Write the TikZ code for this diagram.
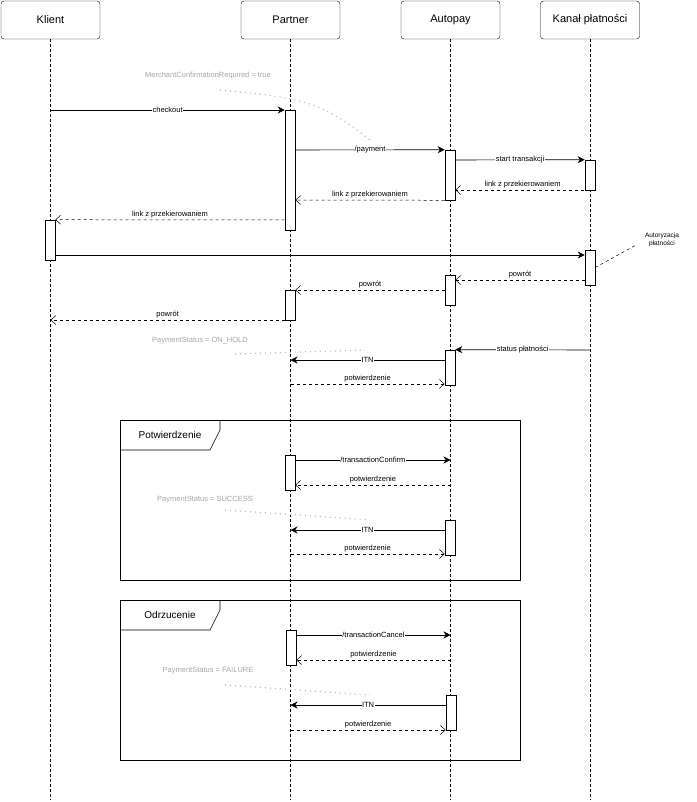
\documentclass[tikz,border=0pt]{standalone}
\usepackage{fontspec}
\setmainfont{Liberation Sans}
\usetikzlibrary{arrows.meta}
\begin{document}
\begin{tikzpicture}[x=1pt,y=-1pt,
  head/.style={draw,fill=white,rounded corners=3pt,minimum width=99pt,minimum height=38pt,font=\fontsize{11}{13}\selectfont},
  life/.style={densely dashed,line width=0.5pt},
  act/.style={draw,fill=white,line width=0.6pt},
  msg/.style={line width=0.6pt,-{Stealth[length=7pt,width=7pt]}},
  ret/.style={line width=0.5pt,dashed,-{Straight Barb[length=5pt,width=9pt]}},
  lab/.style={font=\fontsize{7.5}{9}\selectfont,fill=white,inner sep=0.5pt},
  tl/.style={font=\fontsize{7.5}{9}\selectfont,inner sep=1pt},
  note/.style={font=\fontsize{7.5}{9}\selectfont,text=gray!70},
  nl/.style={line width=1.2pt,gray!55,dash pattern=on 1pt off 4pt},
  frm/.style={line width=0.6pt}]
\fill[white] (0,0) rectangle (696,802);
\useasboundingbox (0,0) rectangle (696,802);
% heads
\node[head] (K) at (50.5,20) {Klient};
\node[head] (P) at (290.5,20) {Partner};
\node[head] (A) at (450.5,20) {Autopay};
\node[head] (C) at (590,20) {Kanał płatności};
\foreach \n/\x in {kl/50,pl/290,al/450,cl/590}{\coordinate (\n) at (\x,800);}
\draw[life] (K) -- (K|-kl);
\draw[life] (P) -- (P|-pl);
\draw[life] (A) -- (A|-al);
\draw[life] (C) -- (C|-cl);
% frames
\draw[frm] (120,420) rectangle (520,580);
\draw[frm] (120,450) -- (210,450) -- (220,430) -- (220,420);
\node[font=\fontsize{10}{12}\selectfont] (f1) at (170,435) {Potwierdzenie};
\draw[frm] (120,600) rectangle (520,760);
\draw[frm] (120,630) -- (210,630) -- (220,610) -- (220,600);
\node[font=\fontsize{10}{12}\selectfont] (f2) at (170,615) {Odrzucenie};
% activations
\node[act,minimum width=10pt,minimum height=120pt,inner sep=0] (p1) at (290,170) {};
\node[act,minimum width=10pt,minimum height=50pt,inner sep=0] (a1) at (450,175) {};
\node[act,minimum width=10pt,minimum height=30pt,inner sep=0] (c1) at (590,175) {};
\node[act,minimum width=10pt,minimum height=40pt,inner sep=0] (k1) at (50,240) {};
\node[act,minimum width=10pt,minimum height=35pt,inner sep=0] (c2) at (590,267.5) {};
\node[act,minimum width=10pt,minimum height=30pt,inner sep=0] (a2) at (450,290) {};
\node[act,minimum width=10pt,minimum height=30pt,inner sep=0] (p2) at (290,305) {};
\node[act,minimum width=10pt,minimum height=35pt,inner sep=0] (a3) at (450,367.5) {};
\node[act,minimum width=10pt,minimum height=35pt,inner sep=0] (p3) at (290,472.5) {};
\node[act,minimum width=10pt,minimum height=35pt,inner sep=0] (a4) at (450,537.5) {};
\node[act,minimum width=10pt,minimum height=35pt,inner sep=0] (p4) at (291,647.5) {};
\node[act,minimum width=10pt,minimum height=35pt,inner sep=0] (a5) at (451,712.5) {};
% messages
\draw[msg] (K|-0,110) -- node[lab]{checkout} (p1.west|-0,110);
\draw[msg] (p1.east|-0,150) -- node[lab]{/payment} (a1.north west);
\draw[msg] (a1.east|-0,160) -- node[lab]{start transakcji} (c1.north west);
\draw[ret] (C|-0,190) -- node[tl,above=1pt]{link z przekierowaniem} (a1.east|-0,190);
\draw[ret] (a1.south west) -- node[tl,above=1pt]{link z przekierowaniem} (p1.east|-0,200);
\draw[ret] (p1.west|-0,220) -- node[tl,above=1pt]{link z przekierowaniem} (k1.north east);
\draw[msg] (k1.east|-0,255) -- (c2.west|-0,255);
\draw[ret] (c2.west|-0,280) -- node[tl,above=1pt]{powrót} (a2.east|-0,280);
\draw[ret] (a2.west|-0,290) -- node[tl,above=1pt]{powrót} (p2.east|-0,290);
\draw[ret] (p2.west|-0,320) -- node[tl,above=1pt]{powrót} (K|-0,320);
\draw[msg] (C|-0,350) -- node[lab]{status płatności} (a3.north east);
\draw[msg] (a3.west|-0,360) -- node[lab]{ITN} (P|-0,360);
\draw[ret] (P|-0,384) -- node[tl,above=1pt]{potwierdzenie} (a3.west|-0,384);
\draw[msg] (p3.east|-0,460) -- node[lab]{/transactionConfirm} (A|-0,460);
\draw[ret] (A|-0,485) -- node[tl,above=1pt]{potwierdzenie} (p3.east|-0,485);
\draw[msg] (a4.west|-0,530) -- node[lab]{ITN} (P|-0,530);
\draw[ret] (P|-0,554) -- node[tl,above=1pt]{potwierdzenie} (a4.west|-0,554);
\draw[msg] (p4.east|-0,635) -- node[lab]{/transactionCancel} (A|-0,635);
\draw[ret] (A|-0,660) -- node[tl,above=1pt]{potwierdzenie} (p4.east|-0,660);
\draw[msg] (a5.west|-0,705) -- node[lab]{ITN} (P|-0,705);
\draw[ret] (P|-0,730) -- node[tl,above=1pt]{potwierdzenie} (a5.west|-0,730);
% notes
\node[note] (n1) at (208,76) {MerchantConfirmationRequired = true};
\coordinate (n1a) at (220,90); \coordinate (n1b) at (370,140);
\draw[nl] (n1a) .. controls (300,98) and (320,100) .. (n1b);
\node[font=\fontsize{6.5}{8}\selectfont,align=center] (n2) at (662,240) {Autoryzacja\\płatności};
\coordinate (n2a) at (636,245);
\draw[dashed,line width=0.5pt] (c2.east) -- (n2a);
\node[note] (n3) at (200,341) {PaymentStatus = ON\_HOLD};
\coordinate (n3a) at (235,354); \coordinate (n3b) at (365,350);
\draw[nl] (n3a) -- (n3b);
\node[note] (n4) at (205,500) {PaymentStatus = SUCCESS};
\coordinate (n4a) at (225,510); \coordinate (n4b) at (370,520);
\draw[nl] (n4a) -- (n4b);
\node[note] (n5) at (208,671) {PaymentStatus = FAILURE};
\coordinate (n5a) at (225,685); \coordinate (n5b) at (370,695);
\draw[nl] (n5a) -- (n5b);
\end{tikzpicture}
\end{document}
